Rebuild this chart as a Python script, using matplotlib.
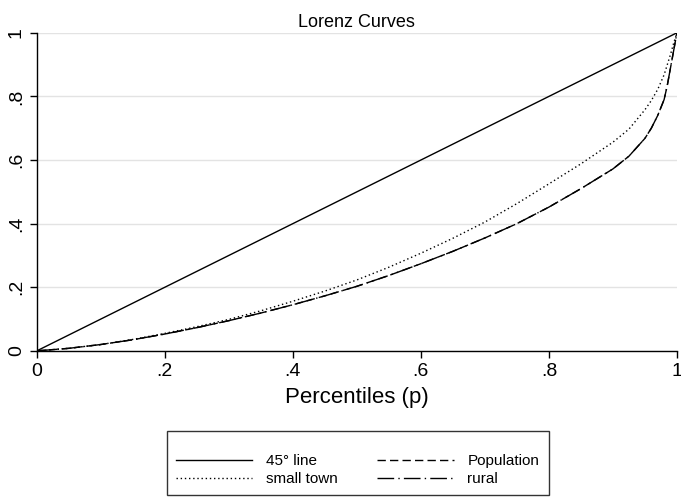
import matplotlib
matplotlib.use("Agg")
import matplotlib.pyplot as plt

plt.rcParams['font.family'] = ['Liberation Sans', 'DejaVu Sans']

p = [0, 0.05, 0.1, 0.15, 0.2, 0.25, 0.3, 0.35, 0.4, 0.45, 0.5, 0.55, 0.6,
     0.65, 0.7, 0.75, 0.8, 0.85, 0.9, 0.925, 0.95, 0.96, 0.97, 0.98, 0.985,
     0.99, 0.995, 1.0]
population = [0, 0.008, 0.020, 0.035, 0.053, 0.073, 0.095, 0.119, 0.145, 0.173,
              0.203, 0.237, 0.274, 0.313, 0.355, 0.400, 0.452, 0.510, 0.572,
              0.612, 0.668, 0.700, 0.740, 0.790, 0.835, 0.890, 0.945, 1.0]
rural = [0, 0.008, 0.020, 0.035, 0.053, 0.073, 0.095, 0.119, 0.145, 0.173,
         0.203, 0.237, 0.274, 0.313, 0.355, 0.400, 0.452, 0.510, 0.572,
         0.612, 0.668, 0.700, 0.740, 0.790, 0.835, 0.890, 0.945, 1.0]
small_town = [0, 0.008, 0.020, 0.036, 0.055, 0.076, 0.099, 0.126, 0.156, 0.188,
              0.223, 0.263, 0.307, 0.354, 0.405, 0.463, 0.525, 0.588, 0.656,
              0.697, 0.758, 0.787, 0.822, 0.868, 0.900, 0.932, 0.968, 1.0]
line45 = [0, 1]

ticks = [0, 0.2, 0.4, 0.6, 0.8, 1.0]
ticklabels = ['0', '.2', '.4', '.6', '.8', '1']

fig = plt.figure(figsize=(6.81, 4.97), dpi=100)
ax = fig.add_axes([0.054, 0.294, 0.940, 0.64])

h1, = ax.plot(line45, line45, color='black', lw=1.0, ls='-', label='45° line')
h2, = ax.plot(p, population, color='black', lw=1.0, ls=(0, (6, 3)), label='Population')
h3, = ax.plot(p, small_town, color='black', lw=1.0, ls=(0, (1, 2)), label='small town')
h4, = ax.plot(p, rural, color='black', lw=1.0, ls=(0, (12, 3, 1, 3)), label='rural')

ax.set_xlim(0, 1)
ax.set_ylim(0, 1)
ax.set_xticks(ticks)
ax.set_xticklabels(ticklabels)
ax.set_yticks(ticks)
ax.set_yticklabels(ticklabels, rotation=90, va='center')
ax.tick_params(axis='both', labelsize=14, length=5, width=1, direction='out')
for s in ['top', 'right']:
    ax.spines[s].set_visible(False)
for s in ['left', 'bottom']:
    ax.spines[s].set_linewidth(1)
ax.yaxis.grid(True, color='#e3e3e3', lw=1)
ax.set_axisbelow(True)

ax.set_title('Lorenz Curves', fontsize=13, pad=4)
ax.set_xlabel('Percentiles (p)', fontsize=16, labelpad=5)

leg = fig.legend(handles=[h1, h3, h2, h4], ncol=2, loc='center',
                 bbox_to_anchor=(0.525, 0.068), fontsize=11, frameon=True,
                 fancybox=False, edgecolor='black', handlelength=5.0,
                 handletextpad=0.9, columnspacing=2.6, borderpad=0.6,
                 labelspacing=0.25, title=' ', title_fontsize=7)
leg.get_frame().set_linewidth(1)

fig.savefig('out.png', dpi=100)
